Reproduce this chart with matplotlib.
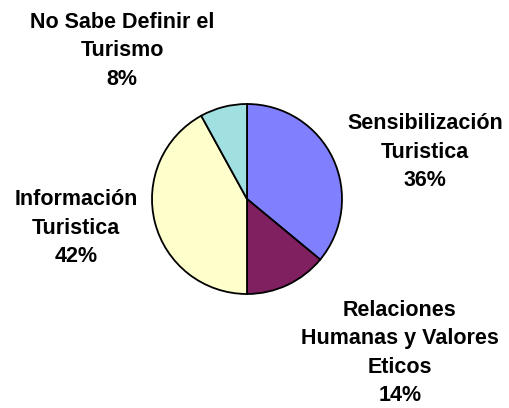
import matplotlib
matplotlib.use("Agg")
import matplotlib.pyplot as plt

categories = ["Sensibilización\nTuristica", "Relaciones\nHumanas y Valores\nEticos",
              "Información\nTuristica", "No Sabe Definir el\nTurismo"]
values = [36, 14, 42, 8]
colors = ["#8080FF", "#802060", "#FFFFCC", "#A0E0E0"]
label_pos = [(425, 408 - 152), (400, 408 - 353), (76, 408 - 228), (122, 408 - 51)]

W, H = 509, 408
fig = plt.figure(figsize=(W / 100, H / 100), dpi=100)
ax = fig.add_axes([0, 0, 1, 1])

ax.pie(values, colors=colors, startangle=90, counterclock=False,
       center=(247, H - 199), radius=95,
       wedgeprops=dict(edgecolor="black", linewidth=1.3), frame=True)
ax.set_xlim(0, W)
ax.set_ylim(0, H)
ax.set_aspect("equal")
ax.axis("off")

for name, v, (x, y) in zip(categories, values, label_pos):
    ax.text(x, y, f"{name}\n{v}%", ha="center", va="center", multialignment="center",
            fontsize=15.5, fontweight="bold", family="Liberation Sans", linespacing=1.45)

fig.savefig("out.png", dpi=100)
